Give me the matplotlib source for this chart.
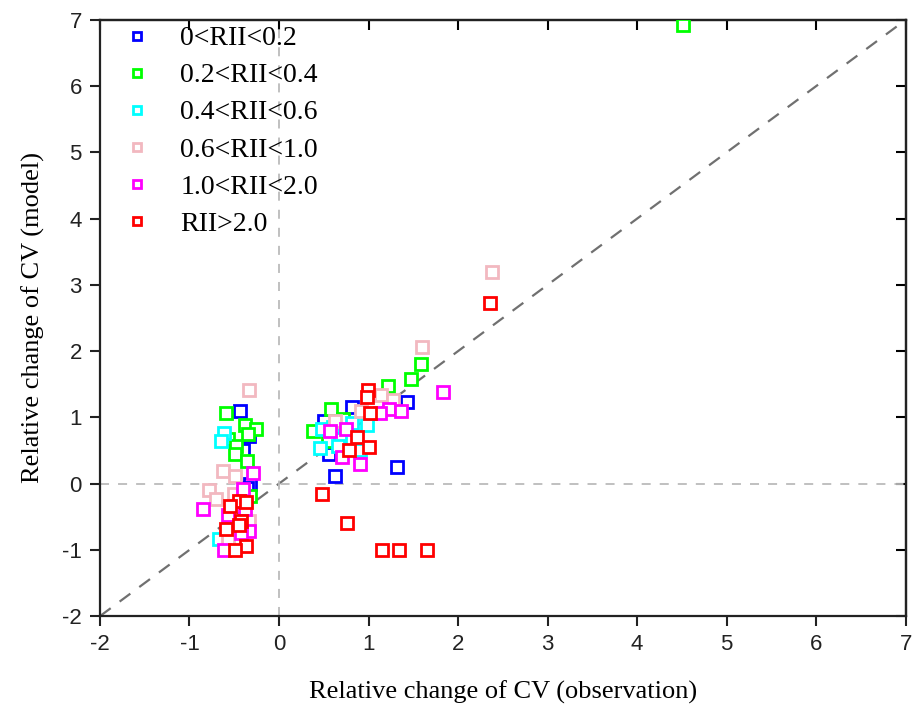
import matplotlib
matplotlib.use("Agg")
import matplotlib.pyplot as plt
from matplotlib import font_manager as fm

labels = ["0<RII<0.2", "0.2<RII<0.4", "0.4<RII<0.6", "0.6<RII<1.0", "1.0<RII<2.0", "RII>2.0"]
colors = ["#0000ff", "#00ff00", "#00ffff", "#f2b8c0", "#ff00ff", "#ff0000"]

blue_x = [-0.435, -0.33, -0.40, -0.32, -0.36, 0.82, 1.43, 0.53, 0.50, 0.56, 1.32, 0.62]
blue_y = [1.09, 0.72, 0.51, 0.00, -0.07, 1.16, 1.23, 0.92, 0.95, 0.44, 0.25, 0.12]

green_x = [4.51, 1.59, 1.47, 1.22, 0.58, 0.71, 0.38, 0.55, -0.59, -0.376, -0.26, -0.35,
           -0.57, -0.48, -0.49, -0.36, -0.32]
green_y = [6.92, 1.80, 1.58, 1.48, 1.12, 0.97, 0.80, 0.65, 1.06, 0.89, 0.82, 0.75,
           0.67, 0.57, 0.44, 0.34, -0.19]

cyan_x = [-0.62, -0.65, -0.67, 0.81, 0.98, 0.48, 0.68, 0.46, 0.66, 0.90, 0.60]
cyan_y = [0.77, 0.65, -0.83, 0.92, 0.89, 0.82, 0.71, 0.54, 0.57, 0.51, 0.85]

pink_x = [-0.33, -0.63, -0.49, -0.78, -0.70, -0.50, -0.33, -0.57, 2.38, 1.60, 1.14, 1.27, 0.92, 0.62]
pink_y = [1.42, 0.19, 0.12, -0.09, -0.23, -0.15, -0.57, -0.84, 3.19, 2.06, 1.34, 1.26, 1.10, 0.95]

mag_x = [-0.29, -0.85, -0.38, -0.57, -0.33, -0.42, -0.61, -0.40, 1.83, 1.23, 1.36, 1.13,
         0.57, 0.75, 0.70, 0.91]
mag_y = [0.16, -0.39, -0.39, -0.48, -0.72, -0.74, -1.00, -0.08, 1.38, 1.13, 1.09, 1.06,
         0.80, 0.83, 0.40, 0.30]

red_x = [2.36, 0.99, 0.98, 1.02, 0.87, 1.00, 0.78, 0.48, 0.76, 1.15, 1.34, 1.65,
         -0.45, -0.37, -0.55, -0.42, -0.45, -0.59, -0.37, -0.49]
red_y = [2.73, 1.41, 1.31, 1.06, 0.70, 0.55, 0.50, -0.16, -0.59, -1.00, -1.00, -1.00,
         -0.26, -0.28, -0.34, -0.57, -0.62, -0.69, -0.94, -1.00]

series = [(blue_x, blue_y), (green_x, green_y), (cyan_x, cyan_y),
          (pink_x, pink_y), (mag_x, mag_y), (red_x, red_y)]

ticks = [-2, -1, 0, 1, 2, 3, 4, 5, 6, 7]

avail = {f.name for f in fm.fontManager.ttflist}
tick_font = "Liberation Sans Narrow" if "Liberation Sans Narrow" in avail else "Liberation Sans"
serif = "Liberation Serif"

fig = plt.figure(figsize=(9.13, 7.09), dpi=100)
ax = fig.add_axes([0.1095, 0.131, 0.8825, 0.841])

ax.plot([-2, 7], [-2, 7], ls=(0, (6, 5)), color="#707070", lw=1.6, zorder=1)
ax.axhline(0, ls=(0, (5, 5)), color="#bbbbbb", lw=1.3, zorder=1)
ax.axvline(0, ls=(0, (5, 5)), color="#bbbbbb", lw=1.3, zorder=1)

for (xs, ys), c, lab in zip(series, colors, labels):
    ax.plot(xs, ys, ls="none", marker="s", ms=8, mfc="white", mec=c, mew=2.0,
            label=lab, zorder=3)

ax.set_xlim(-2, 7)
ax.set_ylim(-2, 7)
ax.set_xticks(ticks)
ax.set_yticks(ticks)
ax.set_xticklabels([str(t) for t in ticks], fontfamily=tick_font, fontsize=16)
ax.set_yticklabels([str(t) for t in ticks], fontfamily=tick_font, fontsize=16)
ax.tick_params(axis="both", which="major", direction="out", length=7, width=1.5,
               colors="#222222", pad=6)
ax.tick_params(top=False, right=False)
ax2 = ax.secondary_xaxis("top")
ax2.set_xticks(ticks)
ax2.tick_params(direction="in", length=7, width=1.5, labeltop=False)
ay2 = ax.secondary_yaxis("right")
ay2.set_yticks(ticks)
ay2.tick_params(direction="in", length=7, width=1.5, labelright=False)
for a in (ax, ax2, ay2):
    for s in a.spines.values():
        s.set_linewidth(1.6)
        s.set_color("#222222")

ax.set_xlabel("Relative change of CV (observation)", fontfamily=serif, fontsize=19, labelpad=18)
ax.set_ylabel("Relative change of CV (model)", fontfamily=serif, fontsize=19, labelpad=12)

leg = ax.legend(loc="upper left", frameon=False, prop={"family": serif, "size": 20},
                markerscale=0.8, handlelength=2.0, handletextpad=0.55, labelspacing=0.42,
                borderpad=0, borderaxespad=0, bbox_to_anchor=(0.012, 0.99))

fig.savefig("out.png", dpi=100)
